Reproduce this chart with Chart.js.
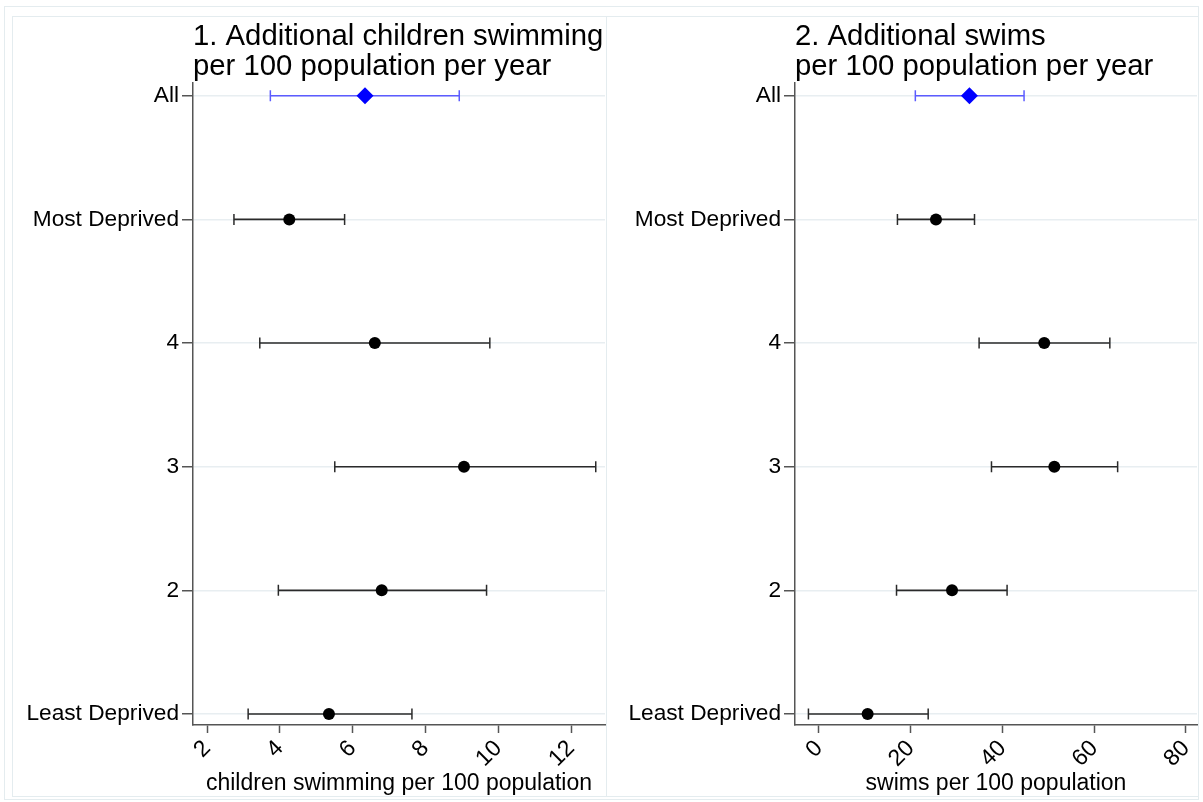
<!DOCTYPE html>
<html lang="en">

<head>
    <meta charset="UTF-8">
    <meta name="viewport" content="width=device-width, initial-scale=1.0">
    <title>Additional swimming by deprivation</title>
    <script src="https://cdn.jsdelivr.net/npm/chart.js"></script>
    <style>
        body {
            margin: 0;
            background: #fff;
        }

        .frame {
            position: absolute;
            border: 1px solid #e4ecef;
            box-sizing: border-box;
        }

        .panel {
            position: absolute;
        }
    </style>
</head>

<body>
    <div class="frame" style="left:4px; top:6px; width:1195px; height:794px;"></div>
    <div class="frame" style="left:12px; top:16px; width:595px; height:781px;"></div>
    <div class="frame" style="left:606px; top:16px; width:593px; height:781px;"></div>
    <div class="panel" style="left:12px; top:16px; width:594px; height:780px;">
        <canvas id="chartChildren"></canvas>
    </div>
    <div class="panel" style="left:606px; top:16px; width:592px; height:780px;">
        <canvas id="chartSwims"></canvas>
    </div>
</body>

</html>
<script>
    // categories, top to bottom
    var categories = ['All', 'Most Deprived', '4', '3', '2', 'Least Deprived'];

    // 1. additional children swimming per 100 population per year
    var childEst = [6.34, 4.26, 6.61, 9.06, 6.80, 5.35];
    var childLo = [3.74, 2.74, 3.45, 5.51, 3.96, 3.13];
    var childHi = [8.93, 5.78, 9.77, 12.68, 9.68, 7.63];
    var childTicks = [2, 4, 6, 8, 10, 12];

    // 2. additional swims per 100 population per year
    var swimEst = [32.8, 25.5, 49.1, 51.3, 29.0, 10.6];
    var swimLo = [21.0, 17.1, 34.9, 37.6, 16.9, -2.3];
    var swimHi = [44.7, 33.9, 63.4, 65.1, 41.0, 23.8];
    var swimTicks = [0, 20, 40, 60, 80];

    Chart.defaults.font.family = "'Liberation Sans', Arial, Helvetica, sans-serif";
    Chart.defaults.color = '#000';

    function makeDatasets(est, lo, hi) {
        var sets = [];
        // markers first so they are drawn on top
        sets.push({
            data: est.map((v, i) => ({ x: v, y: i })),
            showLine: false,
            pointStyle: est.map((v, i) => i == 0 ? 'rectRot' : 'circle'),
            pointRadius: est.map((v, i) => i == 0 ? 8.5 : 6),
            pointBackgroundColor: est.map((v, i) => i == 0 ? '#0000ff' : '#000'),
            pointBorderWidth: 0,
            order: 0
        });
        for (let i = 0; i < est.length; i++) {
            var col = i == 0 ? '#5c5cff' : '#2a2a2a';
            sets.push({
                data: [{ x: lo[i], y: i }, { x: hi[i], y: i }],
                showLine: true,
                borderColor: col,
                borderWidth: 1.6,
                pointStyle: 'line',
                rotation: 90,
                pointRadius: 5.5,
                pointBorderColor: col,
                pointBorderWidth: 1.5,
                order: 1
            });
        }
        return sets;
    }

    function makeChart(canvas, titleText, axisText, est, lo, hi, ticks, xmin, xmax, yWidth) {
        return new Chart(canvas, {
            type: 'scatter',
            data: { datasets: makeDatasets(est, lo, hi) },
            options: {
                responsive: true,
                maintainAspectRatio: false,
                animation: false,
                layout: {
                    autoPadding: false,
                    padding: { left: 0, right: 1, top: 0, bottom: 0 }
                },
                plugins: {
                    legend: { display: false },
                    tooltip: { enabled: false },
                    title: {
                        display: true,
                        text: titleText,
                        fullSize: false,
                        align: 'start',
                        color: '#000',
                        font: { size: 29.3, weight: 'normal', lineHeight: 1.02 },
                        padding: { top: 6, bottom: 1 }
                    }
                },
                scales: {
                    x: {
                        type: 'linear',
                        min: xmin,
                        max: xmax,
                        afterBuildTicks: s => { s.ticks = ticks.map(v => ({ value: v })); },
                        afterFit: s => {
                            s.height = 71;
                            s.paddingLeft = 0;
                            s.paddingRight = 0;
                        },
                        ticks: {
                            autoSkip: false,
                            minRotation: 45,
                            maxRotation: 45,
                            padding: 2,
                            color: '#000',
                            font: { size: 23 }
                        },
                        grid: {
                            drawOnChartArea: false,
                            drawTicks: true,
                            tickLength: 8,
                            tickColor: '#555',
                            tickWidth: 1.5
                        },
                        border: { display: true, color: '#555', width: 1.5 },
                        title: {
                            display: true,
                            text: axisText,
                            color: '#000',
                            font: { size: 23 },
                            padding: { top: 0, bottom: -1 }
                        }
                    },
                    y: {
                        type: 'linear',
                        reverse: true,
                        min: -0.105,
                        max: 5.089,
                        afterBuildTicks: s => { s.ticks = categories.map((c, i) => ({ value: i })); },
                        afterFit: s => {
                            s.width = yWidth;
                            s.paddingTop = 0;
                            s.paddingBottom = 0;
                        },
                        ticks: {
                            autoSkip: false,
                            padding: 3,
                            color: '#000',
                            font: { size: 22.7 },
                            callback: v => categories[v]
                        },
                        grid: {
                            color: '#e8eef1',
                            lineWidth: 1.5,
                            tickLength: 11,
                            tickColor: '#555',
                            tickWidth: 1.5
                        },
                        border: { display: true, color: '#555', width: 1.5 }
                    }
                }
            }
        });
    }

    makeChart(document.getElementById('chartChildren'),
        ['1. Additional children swimming', 'per 100 population per year'],
        'children swimming per 100 population',
        childEst, childLo, childHi, childTicks, 1.615, 12.934, 181);

    makeChart(document.getElementById('chartSwims'),
        ['2. Additional swims', 'per 100 population per year'],
        'swims per 100 population',
        swimEst, swimLo, swimHi, swimTicks, -5.23, 82.4, 189);
</script>
